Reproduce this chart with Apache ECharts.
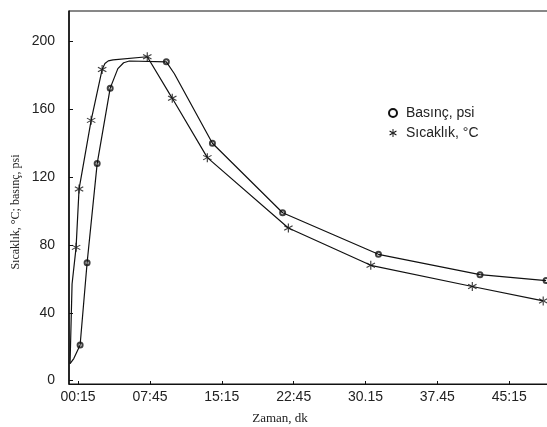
<!DOCTYPE html>
<html><head><meta charset="utf-8">
<script src="https://cdn.jsdelivr.net/npm/echarts@6/dist/echarts.min.js"></script>
<style>html,body{margin:0;padding:0;background:#fff}#c{width:547px;height:427px}</style>
</head><body><div id="c"></div>
<script>
// x in minutes
const xTickValues = [0.25, 7.75, 15.25, 22.75, 30.25, 37.75, 45.25];
const xTickLabels = ['00:15', '07:45', '15:15', '22:45', '30.15', '37.45', '45:15'];
const yTickValues = [0, 40, 80, 120, 160, 200];

// Basınç, psi: traced curve and measured points
const pressureCurveTime  = [-0.59, -0.2, 0.46, 1.19, 2.24, 3.6, 4.4, 5.0, 5.6, 9.46, 10.3, 14.27, 21.6, 31.6, 42.2, 49.1];
const pressureCurveValue = [10, 13, 21, 69.5, 128, 172.5, 184, 187.5, 188.5, 188, 181, 140, 99, 74.5, 62.5, 59];
const pressurePointTime  = [0.46, 1.19, 2.24, 3.6, 9.46, 14.27, 21.6, 31.6, 42.2, 49.1];
const pressurePointValue = [21, 69.5, 128, 172.5, 188, 140, 99, 74.5, 62.5, 59];

// Sıcaklık, °C: traced curve and measured points
const tempCurveTime  = [-0.59, -0.38, 0.04, 0.35, 1.61, 2.76, 3.05, 3.4, 3.9, 7.47, 10.08, 13.74, 22.2, 30.8, 41.4, 48.8];
const tempCurveValue = [10, 57, 78.6, 113, 153.5, 183.5, 187, 188.6, 189.2, 191, 166.5, 131.5, 90, 68, 55.5, 47];
const tempPointTime  = [0.04, 0.35, 1.61, 2.76, 7.47, 10.08, 13.74, 22.2, 30.8, 41.4, 48.8];
const tempPointValue = [78.6, 113, 153.5, 183.5, 191, 166.5, 131.5, 90, 68, 55.5, 47];

const nameP = 'Basınç, psi';
const nameT = 'Sıcaklık, °C';
const starPath = 'path://M8.8 0L11.2 0L11.2 20L8.8 20Z M17.96 16.04L19.16 13.96L2.04 3.96L0.84 6.04Z M0.84 13.96L2.04 16.04L19.16 6.04L17.96 3.96Z';

const zip = (a, b) => a.map((v, i) => [v, b[i]]);
const ink = '#111';
const sans = '"Liberation Sans", Arial, sans-serif';
const serif = '"Liberation Serif", "DejaVu Serif", serif';

const chart = echarts.init(document.getElementById('c'), null, {renderer: 'canvas'});
chart.setOption({
  animation: false,
  backgroundColor: '#fff',
  grid: {left: 69, top: 11, right: -1, bottom: 43, show: true, borderColor: ink, borderWidth: 1, containLabel: false, outerBoundsMode: 'none'},
  legend: {
    orient: 'vertical', left: 383, top: 101, itemWidth: 8, itemHeight: 8, itemGap: 6,
    textStyle: {fontSize: 14, fontFamily: sans, color: '#222', padding: [0, 0, 0, 4]},
    data: [
      {name: nameP, icon: 'emptyCircle', itemStyle: {color: ink, borderColor: ink, borderWidth: 1}},
      {name: nameT, icon: starPath, itemStyle: {color: ink, borderWidth: 0}}
    ],
    selectedMode: false
  },
  xAxis: {
    type: 'value', min: -0.7, max: 49.3,
    axisLine: {show: true, onZero: false, lineStyle: {color: ink, width: 1.2}},
    axisTick: {show: true, inside: true, length: 3, customValues: xTickValues, lineStyle: {color: ink}},
    axisLabel: {
      customValues: xTickValues, margin: 6, fontSize: 14, fontFamily: sans, color: '#222',
      formatter: function (v) {
        const i = xTickValues.findIndex(t => Math.abs(t - v) < 1e-6);
        return i >= 0 ? xTickLabels[i] : '';
      }
    },
    splitLine: {show: false}
  },
  yAxis: {
    type: 'value', min: -2, max: 218,
    axisLine: {show: true, onZero: false, lineStyle: {color: ink, width: 1.6}},
    axisTick: {show: true, inside: true, length: 4, customValues: yTickValues, lineStyle: {color: ink}},
    axisLabel: {customValues: yTickValues, margin: 14, fontSize: 14, fontFamily: sans, color: '#222'},
    splitLine: {show: false}
  },
  graphic: [
    {type: 'text', x: 16, y: 212, rotation: Math.PI / 2,
     style: {text: 'Sıcaklık, °C; basınç, psi', font: '12px ' + serif, fill: '#222', align: 'center', verticalAlign: 'middle'}},
    {type: 'text', x: 280, y: 419,
     style: {text: 'Zaman, dk', font: '13px ' + serif, fill: '#222', align: 'center', verticalAlign: 'middle'}}
  ],
  series: [
    {name: nameP, type: 'line', data: zip(pressureCurveTime, pressureCurveValue), showSymbol: false, smooth: false,
     lineStyle: {color: ink, width: 1.2}, itemStyle: {color: ink}},
    {name: nameT, type: 'line', data: zip(tempCurveTime, tempCurveValue), showSymbol: false, smooth: false,
     lineStyle: {color: ink, width: 1.2}, itemStyle: {color: ink}},
    {name: nameP, type: 'scatter', data: zip(pressurePointTime, pressurePointValue), symbol: 'emptyCircle', symbolSize: 5,
     itemStyle: {color: ink, borderColor: ink, borderWidth: 1}},
    {name: nameT, type: 'scatter', data: zip(tempPointTime, tempPointValue), symbol: starPath, symbolSize: 9,
     itemStyle: {color: ink}}
  ]
});
</script>
</body></html>
